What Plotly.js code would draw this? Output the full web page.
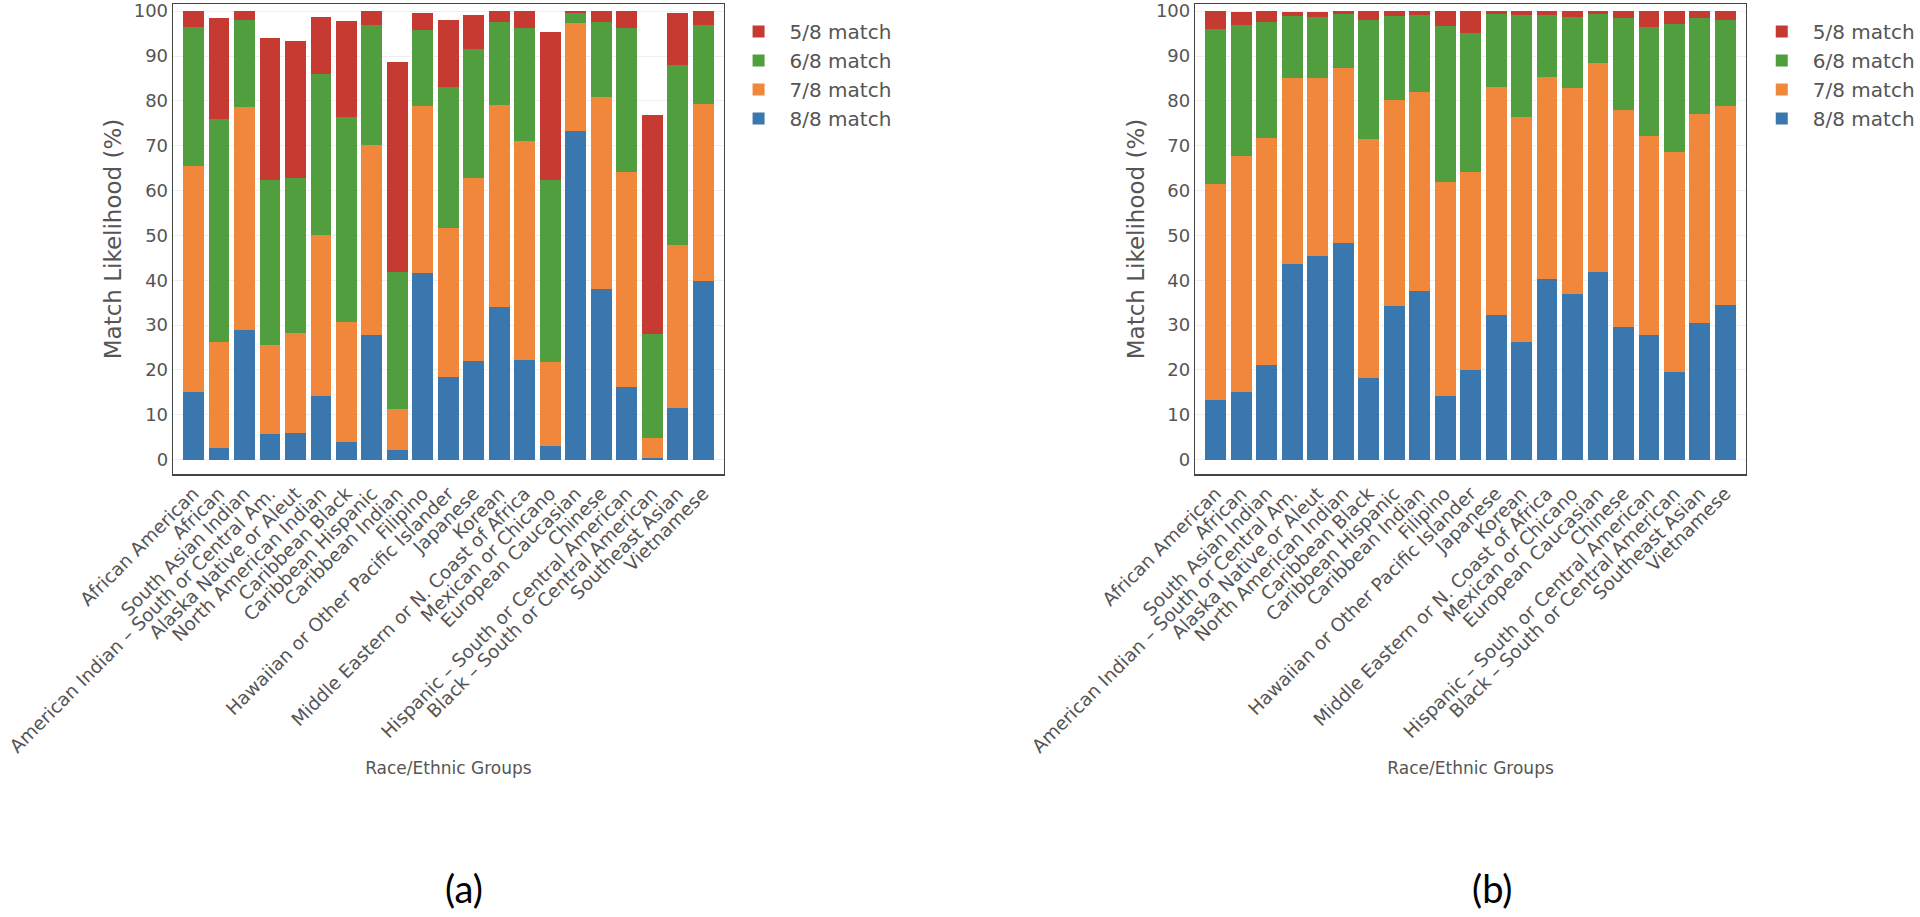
<!DOCTYPE html>
<html>
<head>
<meta charset="utf-8">
<script src="https://cdn.plot.ly/plotly-3.0.1.min.js"></script>
<style>
  html, body { margin: 0; padding: 0; background: #ffffff; }
  #chart { width: 1920px; height: 917px; }
</style>
</head>
<body>
<div id="chart"></div>
<script>
const categories = [
  "African American", "African", "South Asian Indian",
  "American Indian \u2013 South or Central Am.", "Alaska Native or Aleut",
  "North American Indian", "Caribbean Black", "Caribbean Hispanic",
  "Caribbean Indian", "Filipino", "Hawaiian or Other Pacific Islander",
  "Japanese", "Korean", "Middle Eastern or N. Coast of Africa",
  "Mexican or Chicano", "European Caucasian", "Chinese",
  "Hispanic \u2013 South or Central American",
  "Black \u2013 South or Central American", "Southeast Asian", "Vietnamese"
];
const seriesNames = ["8/8 match", "7/8 match", "6/8 match", "5/8 match"];

// Panel (a)
const match8A = [15.1, 2.5, 28.9, 5.7, 5.9, 14.3, 3.9, 27.7, 2.2, 41.7, 18.5, 22.0, 34.1, 22.2, 3.0, 73.3, 38.0, 16.3, 0.4, 11.5, 39.9];
const match7A = [50.4, 23.8, 49.7, 19.9, 22.4, 35.9, 26.7, 42.4, 9.1, 37.2, 33.2, 40.7, 45.0, 48.8, 18.7, 24.0, 42.9, 47.8, 4.4, 36.3, 39.3];
const match6A = [31.0, 49.7, 19.5, 36.8, 34.5, 35.7, 45.8, 26.8, 30.6, 16.9, 31.4, 28.9, 18.5, 25.2, 40.6, 2.4, 16.7, 32.1, 23.3, 40.3, 17.7];
const match5A = [3.5, 22.5, 1.9, 31.7, 30.5, 12.8, 21.5, 3.1, 46.7, 3.8, 15.0, 7.6, 2.4, 3.8, 33.0, 0.3, 2.4, 3.8, 48.7, 11.5, 3.1];

// Panel (b)
const match8B = [13.3, 15.1, 21.2, 43.6, 45.4, 48.2, 18.3, 34.3, 37.6, 14.3, 20.0, 32.3, 26.3, 40.2, 36.9, 41.9, 29.6, 27.8, 19.5, 30.4, 34.4];
const match7B = [48.2, 52.6, 50.6, 41.6, 39.8, 39.2, 53.1, 45.9, 44.4, 47.5, 44.1, 50.9, 50.2, 45.2, 45.9, 46.6, 48.3, 44.4, 49.2, 46.7, 44.4];
const match6B = [34.6, 29.3, 25.8, 13.8, 13.5, 12.0, 26.6, 18.7, 17.1, 34.8, 31.1, 16.1, 22.6, 13.7, 16.0, 10.9, 20.5, 24.2, 28.5, 21.3, 19.3];
const match5B = [3.9, 2.8, 2.4, 0.9, 1.2, 0.6, 2.0, 1.1, 0.9, 3.4, 4.8, 0.7, 0.9, 0.9, 1.2, 0.6, 1.6, 3.6, 2.8, 1.6, 1.9];

const yTickVals = [0, 10, 20, 30, 40, 50, 60, 70, 80, 90, 100];
const xTitle = "Race/Ethnic Groups";
const yTitle = "Match Likelihood (%)";
const panelLabels = ["(a)", "(b)"];

const colors = ["#3a77ae", "#f0873a", "#519e3e", "#c73a32"];
const FONT = "DejaVu Sans, Verdana, sans-serif";
const TXT = "#555555";

function panelTraces(valuesList, xa, ya, legendName) {
  return valuesList.map((vals, i) => ({
    type: "bar",
    x: categories,
    y: vals,
    name: seriesNames[i],
    xaxis: xa,
    yaxis: ya,
    legend: legendName,
    marker: { color: colors[i], line: { width: 0 } },
    hoverinfo: "x+y+name"
  }));
}

const data = [
  ...panelTraces([match8A, match7A, match6A, match5A], "x", "y", "legend"),
  ...panelTraces([match8B, match7B, match6B, match5B], "x2", "y2", "legend2")
];

function xAxis(domain, anchor) {
  return {
    domain: domain, anchor: anchor, type: "category",
    range: [-0.8, 20.8], autorange: false,
    tickangle: -45,
    tickfont: { family: FONT, size: 18.5, color: TXT },
    showline: true, mirror: true, linecolor: "#444", linewidth: 1.5,
    showgrid: false, zeroline: false, ticks: "",
    automargin: false,
    title: { text: xTitle, font: { family: FONT, size: 17, color: TXT }, standoff: 6 }
  };
}
function yAxis(domain, anchor) {
  return {
    domain: domain, anchor: anchor,
    range: [-3.2, 101.6], autorange: false,
    tickvals: yTickVals,
    ticklabeloverflow: "allow",
    tickfont: { family: FONT, size: 18, color: TXT },
    showline: true, mirror: true, linecolor: "#444", linewidth: 1.5,
    showgrid: true, gridcolor: "#eeeeee", gridwidth: 1,
    zeroline: false, ticks: "",
    automargin: false,
    title: { text: yTitle, font: { family: FONT, size: 23, color: TXT }, standoff: 5 }
  };
}

const yDomain = [1 - 474 / 917, 1 - 4 / 917];
const legendBase = {
  xanchor: "left", y: 1 - 12 / 917, yanchor: "top",
  traceorder: "reversed", bgcolor: "rgba(0,0,0,0)",
  font: { family: FONT, size: 20, color: TXT },
  itemwidth: 52
};
const layout = {
  width: 1920, height: 917,
  margin: { l: 0, r: 0, t: 0, b: 0, pad: 0 },
  paper_bgcolor: "#ffffff", plot_bgcolor: "#ffffff",
  barmode: "stack", bargap: 0.18,
  showlegend: true,
  xaxis: xAxis([174 / 1920, 727 / 1920], "y"),
  yaxis: yAxis(yDomain, "x"),
  xaxis2: xAxis([1201 / 1920, 1754 / 1920], "y2"),
  yaxis2: yAxis(yDomain, "x2"),
  legend: Object.assign({}, legendBase, { x: 731 / 1920 }),
  legend2: Object.assign({}, legendBase, { x: 1759 / 1920 }),
  annotations: [
    { text: panelLabels[0], xref: "paper", yref: "paper", x: 466 / 1920, y: 1 - 888 / 917,
      xanchor: "center", yanchor: "middle", showarrow: false,
      font: { family: "Lato, Carlito, sans-serif", size: 38, color: "#000" } },
    { text: panelLabels[1], xref: "paper", yref: "paper", x: 1499 / 1920, y: 1 - 888 / 917,
      xanchor: "center", yanchor: "middle", showarrow: false,
      font: { family: "Lato, Carlito, sans-serif", size: 38, color: "#000" } }
  ]
};

Plotly.newPlot("chart", data, layout, { displayModeBar: false, staticPlot: true });
</script>
</body>
</html>
